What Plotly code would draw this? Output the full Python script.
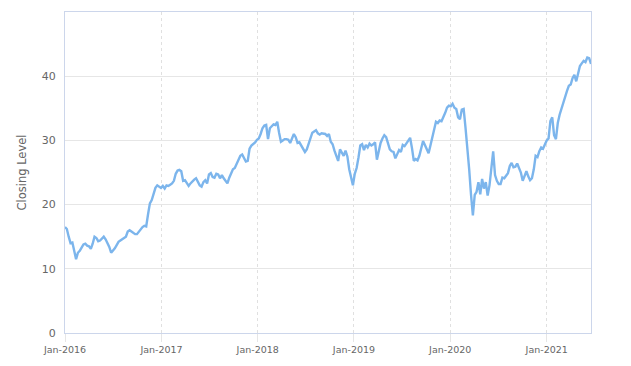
import pandas as pd
import plotly.graph_objects as go

# Weekly closing levels
c2016 = [16.5, 16.2, 15.0, 14.0, 14.1, 12.9, 11.5, 12.5, 12.8, 13.3,
         13.8, 13.9, 13.6, 13.5, 13.1, 13.9, 15.0, 14.8, 14.3, 14.4,
         14.7, 15.0, 14.6, 14.0, 13.4, 12.5, 12.8, 13.2, 13.7, 14.2,
         14.4, 14.6, 14.8, 15.0, 15.8, 16.0, 15.8, 15.6, 15.4, 15.4,
         15.8, 16.1, 16.5, 16.7, 16.6, 18.5, 20.2, 20.7, 21.5, 22.6,
         23.0, 22.8, 22.6]
c2017 = [22.9, 22.5, 23.0, 22.9, 23.1, 23.3, 23.7, 24.8, 25.3, 25.4,
         25.2, 23.7, 23.8, 23.3, 22.9, 23.3, 23.7, 23.9, 24.1, 23.6,
         23.0, 22.8, 23.5, 23.8, 23.3, 24.7, 24.9, 24.3, 24.2, 24.8,
         24.7, 24.1, 24.6, 24.1, 23.7, 23.3, 24.2, 25.0, 25.5, 25.7,
         26.3, 26.9, 27.6, 27.8, 27.2, 26.7, 26.8, 28.7, 29.2, 29.4,
         29.7, 30.1]
c2018 = [30.3, 31.0, 31.9, 32.3, 32.4, 30.2, 31.9, 32.2, 32.5, 32.4,
         32.9, 31.2, 29.8, 30.0, 30.2, 30.2, 30.1, 29.6, 30.2, 31.0,
         30.5, 29.6, 29.7, 29.2, 28.8, 28.2, 28.6, 29.4, 30.5, 31.2,
         31.4, 31.6, 31.1, 30.9, 31.1, 31.1, 31.0, 30.7, 31.0, 29.8,
         29.4, 28.4, 27.5, 26.8, 28.6, 28.2, 27.6, 28.4, 27.5, 25.5,
         24.3, 23.0]
c2019 = [24.8, 25.7, 27.3, 29.2, 29.4, 28.5, 29.3, 28.9, 29.5, 29.2,
         29.4, 29.7, 27.0, 28.6, 29.6, 30.3, 30.8, 30.5, 29.4, 28.6,
         28.3, 28.2, 27.2, 27.9, 28.5, 28.2, 29.3, 29.1, 29.5, 30.0,
         30.4, 28.8, 26.8, 27.1, 26.9, 27.6, 29.0, 29.9, 29.3, 28.6,
         28.0, 29.2, 30.6, 31.8, 32.9, 32.7, 33.1, 33.0, 33.6, 34.3,
         35.1, 35.4]
c2020 = [35.3, 35.7, 35.1, 34.9, 33.6, 33.3, 34.8, 34.9, 32.0, 29.2,
         25.5, 21.5, 18.3, 21.5, 22.0, 23.5, 21.6, 24.0, 22.5, 23.5,
         21.4, 23.0, 25.3, 28.3, 24.6, 23.7, 23.2, 23.2, 24.2, 24.1,
         24.5, 24.9, 26.0, 26.5, 25.8, 25.9, 26.4, 25.8, 25.0, 23.7,
         24.4, 25.2, 24.4, 23.8, 24.1, 25.5, 27.6, 27.4, 28.3, 28.9,
         28.7, 29.3]
c2021 = [30.0, 30.3, 33.0, 33.6, 30.8, 30.2, 32.7, 34.0, 35.0, 36.0,
         37.0, 37.7, 38.5, 38.7, 39.7, 40.2, 39.2, 40.7, 41.6, 42.0,
         42.4, 42.2, 42.9, 42.8, 41.9]

closing = c2016 + c2017 + c2018 + c2019 + c2020 + c2021
dates = pd.date_range("2016-01-01", periods=len(closing), freq="7D")

x_ticks = ["2016-01-01", "2017-01-01", "2018-01-01", "2019-01-01",
           "2020-01-01", "2021-01-01"]
x_tick_text = ["Jan-2016", "Jan-2017", "Jan-2018", "Jan-2019",
               "Jan-2020", "Jan-2021"]
y_ticks = [0, 10, 20, 30, 40]

fig = go.Figure()
fig.add_trace(go.Scatter(
    x=dates, y=closing, mode="lines",
    line=dict(color="#7cb5ec", width=2.4),
    hoverinfo="skip", showlegend=False,
))

font_family = "DejaVu Sans"
fig.update_layout(
    width=623, height=358,
    margin=dict(l=57, r=40, t=4, b=33),
    paper_bgcolor="white", plot_bgcolor="white",
    font=dict(family=font_family, color="#666666"),
    xaxis=dict(
        range=[dates[0], dates[-1]],
        tickvals=x_ticks, ticktext=x_tick_text,
        tickfont=dict(size=9.5, color="#666666"),
        showgrid=True, gridcolor="#e0e0e0", griddash="3px,3px", gridwidth=1,
        showline=True, linecolor="#ccd6eb", linewidth=1, mirror=True,
        ticks="outside", ticklen=8, tickcolor="#e6e6e6",
        zeroline=False, automargin=False,
    ),
    yaxis=dict(
        range=[0, 50],
        tickvals=y_ticks,
        tickfont=dict(size=11, color="#666666"),
        showgrid=True, gridcolor="#e6e6e6", gridwidth=1,
        showline=True, linecolor="#ccd6eb", linewidth=1, mirror=True,
        zeroline=False, ticks="", ticklabelstandoff=6, automargin=False,
        title=dict(text="Closing Level", font=dict(size=11.5, color="#666666"),
                   standoff=12),
    ),
)

fig.write_html("out.html", config={"displayModeBar": False})
